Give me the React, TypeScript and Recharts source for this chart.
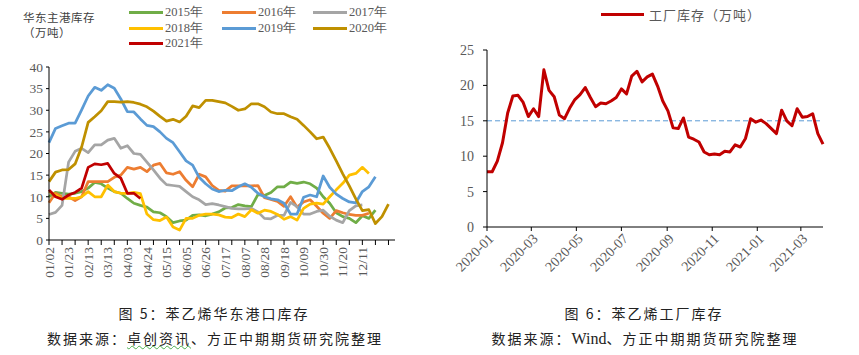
import React from 'react';
import { LineChart, Line, XAxis, YAxis, ReferenceLine } from 'recharts';

// weekly categories of the port inventory chart (index 0..53)
const WEEKS = [
  '01/02', '01/09', '01/16', '01/23', '01/30', '02/06', '02/13', '02/27', '03/06', '03/13',
  '03/20', '03/27', '04/03', '04/10', '04/17', '04/24', '05/01', '05/08', '05/15', '05/22',
  '05/29', '06/05', '06/12', '06/19', '06/26', '07/03', '07/10', '07/17', '07/24', '07/31',
  '08/07', '08/14', '08/21', '08/28', '09/04', '09/11', '09/18', '09/25', '10/02', '10/09',
  '10/16', '10/23', '10/30', '11/06', '11/13', '11/20', '11/27', '12/04', '12/11', '12/18',
  '12/25', '12/31', '', '',
];
const LAST_LABELED_WEEK = 48;

const PORT_2015 = [
  10.0, 11.0, 10.8, 10.6, 10.8, 11.2, 12.0, 13.3, 13.0, 12.0, 11.2, 10.8, 9.6, 8.5, 8.0, 7.6,
  6.5, 6.3, 5.4, 4.0, 4.4, 4.6, 5.7, 5.8, 5.6, 6.0, 6.5, 7.4, 7.5, 8.2, 7.9, 7.7, 10.5, 10.3,
  11.0, 12.3, 12.3, 13.4, 13.1, 13.4, 13.0, 12.0, 10.0, 8.5, 6.3, 5.4, 5.0, 4.0, 5.6, 5.0, 6.9,
];
const PORT_2016 = [
  8.6, 10.8, 10.0, 10.0, 9.1, 10.0, 13.5, 13.5, 13.5, 13.5, 14.5, 15.0, 16.8, 16.4, 16.8, 15.8,
  17.3, 17.7, 15.5, 15.2, 15.8, 13.8, 12.3, 15.2, 14.6, 12.6, 11.5, 11.3, 12.5, 12.5, 12.5, 12.5,
  12.6, 9.8, 9.4, 8.9, 7.8, 10.0, 7.6, 8.8, 9.3, 7.8, 6.2, 5.0, 6.8, 6.3, 5.9, 5.7, 5.7, 6.2,
];
const PORT_2017 = [
  5.9, 6.4, 8.0, 18.0, 20.5, 21.2, 20.2, 22.0, 22.0, 23.1, 23.5, 21.2, 21.8, 20.0, 19.8, 18.0,
  16.2, 14.3, 12.8, 12.6, 12.4, 11.2, 10.0, 9.3, 8.2, 8.4, 8.1, 7.7, 7.3, 7.2, 7.2, 7.3, 6.5,
  5.0, 4.9, 5.7, 5.7, 8.7, 7.7, 6.0, 6.0, 6.6, 6.9, 5.5, 4.6, 4.0, 6.8, 7.9, 8.1,
];
const PORT_2018 = [
  11.2, 10.4, 9.6, 9.6, 9.6, 10.0, 11.2, 10.0, 10.0, 12.7, 11.2, 10.8, 10.8, 11.0, 10.7, 6.0,
  4.7, 4.5, 5.3, 3.0, 2.3, 5.0, 5.0, 5.7, 6.0, 6.0, 5.8, 5.3, 5.2, 6.0, 5.4, 7.0, 6.2, 6.9, 6.6,
  5.9, 4.8, 5.4, 4.6, 7.3, 8.3, 8.5, 8.3, 10.0, 11.6, 13.1, 15.0, 15.4, 16.8, 15.4,
];
const PORT_2019 = [
  22.5, 25.8, 26.4, 27.0, 27.0, 30.1, 33.3, 35.3, 34.6, 35.9, 35.1, 32.6, 29.7, 29.6, 28.0, 26.5,
  26.2, 25.0, 23.5, 22.5, 20.4, 18.3, 17.3, 14.5, 13.0, 11.8, 11.2, 11.5, 11.4, 12.3, 13.0, 12.2,
  10.8, 10.0, 9.5, 9.3, 8.5, 6.0, 6.0, 9.9, 10.4, 10.0, 14.8, 12.2, 10.6, 9.6, 8.8, 8.6, 11.2,
  12.3, 14.6,
];
const PORT_2020 = [
  13.5, 15.7, 16.2, 16.3, 17.6, 21.5, 27.2, 28.5, 29.9, 32.0, 32.0, 31.9, 32.0, 31.8, 31.4, 30.8,
  29.8, 28.6, 27.5, 27.9, 27.3, 28.6, 31.0, 30.6, 32.3, 32.3, 32.0, 31.7, 30.9, 30.0, 30.3, 31.5,
  31.5, 30.8, 29.6, 29.2, 29.2, 28.5, 27.9, 26.5, 25.0, 23.4, 23.8, 21.2, 18.3, 15.3, 12.5, 9.5,
  6.8, 7.0, 3.8, 5.4, 8.3,
];
const PORT_2021 = [11.6, 10.0, 9.4, 10.4, 11.0, 12.0, 16.8, 17.6, 17.4, 17.7, 15.4, 14.3, 10.8, 10.8, 9.6];

const PORT_SERIES = [
  { key: 'y2015', name: '2015年', color: '#70AD47', values: PORT_2015 },
  { key: 'y2016', name: '2016年', color: '#ED7D31', values: PORT_2016 },
  { key: 'y2017', name: '2017年', color: '#A5A5A5', values: PORT_2017 },
  { key: 'y2018', name: '2018年', color: '#FFC000', values: PORT_2018 },
  { key: 'y2019', name: '2019年', color: '#5B9BD5', values: PORT_2019 },
  { key: 'y2020', name: '2020年', color: '#BF9000', values: PORT_2020 },
  { key: 'y2021', name: '2021年', color: '#C00000', values: PORT_2021 },
];
const PORT_TICKS = [0, 5, 10, 15, 20, 25, 30, 35, 40];

// factory inventory, weekly from the start of 2020
const FACTORY_START = '2020-01-01';
const FACTORY_STOCK = [
  7.8, 7.8, 9.3, 11.9, 16.1, 18.5, 18.6, 17.6, 15.6, 16.7, 15.6, 22.2, 19.3, 18.4, 15.8, 15.3,
  16.8, 18.0, 18.7, 19.7, 18.3, 17.0, 17.5, 17.4, 17.8, 18.3, 19.5, 18.8, 21.3, 22.0, 20.5, 21.2,
  21.6, 19.9, 17.8, 16.4, 14.0, 13.9, 15.4, 12.7, 12.4, 12.0, 10.6, 10.2, 10.3, 10.2, 10.7, 10.6,
  11.6, 11.3, 12.5, 15.3, 14.8, 15.1, 14.6, 13.9, 13.2, 16.5, 15.0, 14.3, 16.7, 15.5, 15.6, 16.0,
  13.2, 11.7,
];
const FACTORY_MONTHS = ['2020-01', '2020-03', '2020-05', '2020-07', '2020-09', '2020-11', '2021-01', '2021-03'];
const FACTORY_TICKS = [0, 5, 10, 15, 20, 25];
const FACTORY_GUIDE = 15;

const DAY = 86400000;
const dayOf = (iso: string) => Math.round((Date.parse(iso) - Date.parse(FACTORY_START)) / DAY);

const portRows = WEEKS.map((week, i) => {
  const row: Record<string, unknown> = { i, week };
  PORT_SERIES.forEach((s) => {
    row[s.key] = s.values[i] ?? null;
  });
  return row;
});

const factoryRows = FACTORY_STOCK.map((v, i) => ({ day: i * 7, stock: v }));
const monthTicks = FACTORY_MONTHS.map((m) => dayOf(`${m}-01`));
const factoryEnd = (FACTORY_STOCK.length - 1) * 7;

const SERIF = '"Liberation Serif", "Times New Roman", serif';
const CJK = '"Noto Sans CJK SC", "Noto Sans", sans-serif';
const TICK_GREY = '#595959';

const WeekTick = ({ x, y, payload }: any) => {
  const i = payload.value as number;
  const label = i % 3 === 0 && i <= LAST_LABELED_WEEK ? WEEKS[i] : '';
  return (
    <g>
      {i % 2 === 0 && <line x1={x} y1={y} x2={x} y2={y + 5} stroke="#000" strokeWidth={1} />}
      {label && (
        <text
          x={x}
          y={y + 7}
          transform={`rotate(-90 ${x} ${y + 7})`}
          textAnchor="end"
          dy="0.35em"
          fill={TICK_GREY}
          fontSize={13.5}
          fontFamily={SERIF}
        >
          {label}
        </text>
      )}
    </g>
  );
};

const MonthTick = ({ x, y, payload }: any) => {
  const idx = monthTicks.indexOf(payload.value);
  const ax = x + 4;
  const ay = y + 3;
  return (
    <text
      x={ax}
      y={ay}
      transform={`rotate(-45 ${ax} ${ay})`}
      textAnchor="end"
      dy="0.35em"
      fill={TICK_GREY}
      fontSize={14}
      fontFamily={SERIF}
    >
      {FACTORY_MONTHS[idx]}
    </text>
  );
};

const LegendItem = ({ color, label, x, y }: { color: string; label: string; x: number; y: number }) => (
  <div style={{ position: 'absolute', left: x, top: y - 8, height: 16, display: 'flex', alignItems: 'center' }}>
    <div style={{ width: 34, height: 3, background: color, marginRight: 2 }} />
    <span style={{ fontFamily: SERIF, fontSize: 12.5, color: TICK_GREY, whiteSpace: 'nowrap' }}>{label}</span>
  </div>
);

const LEGEND_COLS = [129, 222, 313];
const LEGEND_ROWS = [12, 28, 43];

const caption: React.CSSProperties = {
  position: 'absolute',
  fontFamily: CJK,
  fontSize: 14,
  letterSpacing: 2,
  color: '#222',
  whiteSpace: 'nowrap',
  transform: 'translateX(-50%)',
};

const App = () => (
  <div style={{ position: 'absolute', left: 0, top: 0, width: 859, height: 355, background: '#fff', overflow: 'hidden' }}>
    {/* left: port inventory */}
    <div style={{ position: 'absolute', left: 23, top: 10, fontFamily: CJK, fontSize: 11.5, color: '#404040', letterSpacing: 0.5, lineHeight: '15px' }}>
      华东主港库存
      <br />
      （万吨）
    </div>
    {PORT_SERIES.map((s, k) => (
      <LegendItem key={s.key} color={s.color} label={s.name} x={LEGEND_COLS[k % 3]} y={LEGEND_ROWS[Math.floor(k / 3)]} />
    ))}
    <div style={{ position: 'absolute', left: 0, top: 0 }}>
      <LineChart width={420} height={300} data={portRows} margin={{ top: 67, right: 25, bottom: 15, left: 0 }}>
        <XAxis
          dataKey="i"
          type="number"
          domain={[0, WEEKS.length - 1]}
          ticks={WEEKS.map((_, i) => i)}
          interval={0}
          tickLine={false}
          tickSize={0}
          tickMargin={0}
          height={45}
          axisLine={{ stroke: '#000' }}
          tick={<WeekTick />}
        />
        <YAxis
          domain={[0, 40]}
          ticks={PORT_TICKS}
          interval={0}
          width={49}
          tickSize={3}
          tickMargin={3}
          axisLine={{ stroke: '#000' }}
          tickLine={{ stroke: '#000' }}
          tick={{ fill: TICK_GREY, fontSize: 13.5, fontFamily: SERIF }}
        />
        {PORT_SERIES.map((s) => (
          <Line
            key={s.key}
            dataKey={s.key}
            name={s.name}
            stroke={s.color}
            strokeWidth={2.75}
            dot={false}
            isAnimationActive={false}
            strokeLinejoin="round"
          />
        ))}
      </LineChart>
    </div>

    {/* right: factory inventory */}
    <div style={{ position: 'absolute', left: 601, top: 6, height: 16, display: 'flex', alignItems: 'center' }}>
      <div style={{ width: 43, height: 3, background: '#C00000', marginRight: 5 }} />
      <span style={{ fontFamily: CJK, fontSize: 13, letterSpacing: 1, color: TICK_GREY, whiteSpace: 'nowrap' }}>工厂库存（万吨）</span>
    </div>
    <div style={{ position: 'absolute', left: 430, top: 0 }}>
      <LineChart width={429} height={300} data={factoryRows} margin={{ top: 50, right: 36, bottom: 13, left: 0 }}>
        <XAxis
          dataKey="day"
          type="number"
          domain={[0, factoryEnd]}
          ticks={monthTicks}
          interval={0}
          height={60}
          tickSize={4}
          tickMargin={2}
          axisLine={{ stroke: '#000' }}
          tickLine={{ stroke: '#000' }}
          tick={<MonthTick />}
        />
        <YAxis
          domain={[0, 25]}
          ticks={FACTORY_TICKS}
          interval={0}
          width={57}
          tickSize={4}
          tickMargin={9}
          axisLine={{ stroke: '#000' }}
          tickLine={{ stroke: '#000' }}
          tick={{ fill: TICK_GREY, fontSize: 14, fontFamily: SERIF }}
        />
        <ReferenceLine y={FACTORY_GUIDE} stroke="#5B9BD5" strokeDasharray="5 3" strokeWidth={1} />
        <Line
          dataKey="stock"
          name="工厂库存（万吨）"
          stroke="#C00000"
          strokeWidth={3}
          dot={false}
          isAnimationActive={false}
          strokeLinejoin="round"
        />
      </LineChart>
    </div>

    {/* captions */}
    <div style={{ ...caption, left: 214, top: 303 }}>图 5：苯乙烯华东港口库存</div>
    <div style={{ ...caption, left: 215, top: 328 }}>
      数据来源：
      <span style={{ textDecoration: 'underline wavy #4caf50', textDecorationThickness: 1 }}>卓创资讯</span>
      、方正中期期货研究院整理
    </div>
    <div style={{ ...caption, left: 644, top: 303 }}>图 6：苯乙烯工厂库存</div>
    <div style={{ ...caption, left: 645, top: 328 }}>
      数据来源：
      <span style={{ fontFamily: SERIF, fontSize: 16, letterSpacing: 0 }}>Wind</span>
      、方正中期期货研究院整理
    </div>
  </div>
);

export default App;
